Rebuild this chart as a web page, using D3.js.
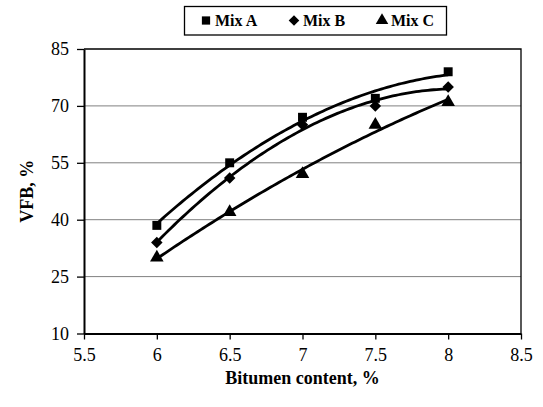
<!DOCTYPE html>
<html>
<head>
<meta charset="utf-8">
<script src="https://d3js.org/d3.v7.min.js"></script>
<style>
  html, body { margin: 0; padding: 0; background: #fff; }
  svg { display: block; }
</style>
</head>
<body>
<svg id="chart" width="543" height="407"></svg>
<script>
// Bitumen content (%) on the x axis
const bitumen = [6, 6.5, 7, 7.5, 8];
// VFB (%) measured for each mix
const mixA = [38.5, 55, 67, 72, 79];
const mixB = [34, 51, 65, 70, 75];
const mixC = [30, 42, 52, 65, 71];
const seriesNames = ["Mix A", "Mix B", "Mix C"];
const xTicks = [5.5, 6, 6.5, 7, 7.5, 8, 8.5];
const yTicks = [10, 25, 40, 55, 70, 85];

const FONT = '"Liberation Serif", "Times New Roman", Times, serif';

// Filled diamond drawn as a square turned 45 degrees
const symbolRhomb = {
  draw(ctx, size) {
    const r = Math.sqrt(size / 2);
    ctx.moveTo(0, -r); ctx.lineTo(r, 0); ctx.lineTo(0, r); ctx.lineTo(-r, 0); ctx.closePath();
  }
};

const series = [
  { name: seriesNames[0], values: mixA, symbol: d3.symbolSquare, size: 80 },
  { name: seriesNames[1], values: mixB, symbol: symbolRhomb, size: 66 },
  { name: seriesNames[2], values: mixC, symbol: d3.symbolTriangle, size: 80 }
];

const svg = d3.select("#chart").attr("font-family", FONT);
const plot = { left: 84, right: 521, top: 49, bottom: 333.5 };

const x = d3.scaleLinear().domain([5.5, 8.5]).range([plot.left, plot.right]);
const y = d3.scaleLinear().domain([10, 85]).range([plot.bottom, plot.top]);

// Horizontal gridlines
svg.append("g")
  .selectAll("line")
  .data(yTicks.filter(t => t > 10 && t < 85))
  .join("line")
  .attr("x1", plot.left).attr("x2", plot.right)
  .attr("y1", d => y(d)).attr("y2", d => y(d))
  .attr("stroke", "#808080").attr("stroke-width", 1);

// Plot frame (top and right)
svg.append("path")
  .attr("d", `M${plot.left},${plot.top}H${plot.right}V${plot.bottom}`)
  .attr("fill", "none").attr("stroke", "#000").attr("stroke-width", 1.3);

// Axes
const xAxis = svg.append("g")
  .attr("transform", `translate(0,${plot.bottom})`)
  .call(d3.axisBottom(x).tickValues(xTicks).tickFormat(d3.format("")).tickSize(6).tickSizeOuter(0).tickPadding(9));
const yAxis = svg.append("g")
  .attr("transform", `translate(${plot.left},0)`)
  .call(d3.axisLeft(y).tickValues(yTicks).tickSize(7).tickSizeOuter(0).tickPadding(8));

[xAxis, yAxis].forEach(g => {
  g.attr("font-family", FONT).attr("font-size", 18);
  g.select(".domain").attr("stroke", "#000").attr("stroke-width", 2);
  g.selectAll(".tick line").attr("stroke", "#000").attr("stroke-width", 1.3);
  g.selectAll(".tick text").attr("fill", "#000");
});

// Axis titles
svg.append("text")
  .attr("x", (plot.left + plot.right) / 2).attr("y", 384)
  .attr("text-anchor", "middle")
  .attr("font-size", 18).attr("font-weight", "bold")
  .text("Bitumen content, %");

svg.append("text")
  .attr("transform", `translate(33,${(plot.top + plot.bottom) / 2}) rotate(-90)`)
  .attr("text-anchor", "middle")
  .attr("font-size", 18).attr("font-weight", "bold")
  .text("VFB, %");

// Second-order polynomial trendline by least squares
function quadFit(xs, ys) {
  const s = [0, 0, 0, 0, 0], t = [0, 0, 0];
  xs.forEach((xi, i) => {
    for (let k = 0; k <= 4; k++) s[k] += Math.pow(xi, k);
    for (let k = 0; k <= 2; k++) t[k] += ys[i] * Math.pow(xi, k);
  });
  const M = [
    [s[0], s[1], s[2], t[0]],
    [s[1], s[2], s[3], t[1]],
    [s[2], s[3], s[4], t[2]]
  ];
  for (let c = 0; c < 3; c++) {
    let p = c;
    for (let r = c + 1; r < 3; r++) if (Math.abs(M[r][c]) > Math.abs(M[p][c])) p = r;
    [M[c], M[p]] = [M[p], M[c]];
    for (let r = 0; r < 3; r++) {
      if (r === c) continue;
      const f = M[r][c] / M[c][c];
      for (let k = c; k < 4; k++) M[r][k] -= f * M[c][k];
    }
  }
  const a = M.map((row, i) => row[3] / row[i]);
  return v => a[0] + a[1] * v + a[2] * v * v;
}

const line = d3.line().x(d => x(d[0])).y(d => y(d[1]));
const x0 = bitumen[0], x1 = bitumen[bitumen.length - 1];
const xs = d3.range(0, 101).map(i => x0 + (x1 - x0) * i / 100);

series.forEach(s => {
  const f = quadFit(bitumen, s.values);
  svg.append("path")
    .attr("d", line(xs.map(v => [v, f(v)])))
    .attr("fill", "none").attr("stroke", "#000").attr("stroke-width", 2.8)
    .attr("stroke-linejoin", "round");

  svg.append("g")
    .selectAll("path")
    .data(s.values.map((v, i) => [bitumen[i], v]))
    .join("path")
    .attr("transform", d => `translate(${x(d[0])},${y(d[1])})`)
    .attr("d", d3.symbol().type(s.symbol).size(s.size))
    .attr("fill", "#000");
});

// Legend
const legend = svg.append("g");
legend.append("rect")
  .attr("x", 184.5).attr("y", 6.5).attr("width", 262).attr("height", 28.5)
  .attr("fill", "#fff").attr("stroke", "#000").attr("stroke-width", 1.3);
const legendX = [206, 294, 382];
series.forEach((s, i) => {
  legend.append("path")
    .attr("transform", `translate(${legendX[i]},${20.5})`)
    .attr("d", d3.symbol().type(s.symbol).size(s.size * 0.85))
    .attr("fill", "#000");
  legend.append("text")
    .attr("x", legendX[i] + 9).attr("y", 26)
    .attr("font-size", 16).attr("font-weight", "bold")
    .text(s.name);
});
</script>
</body>
</html>
